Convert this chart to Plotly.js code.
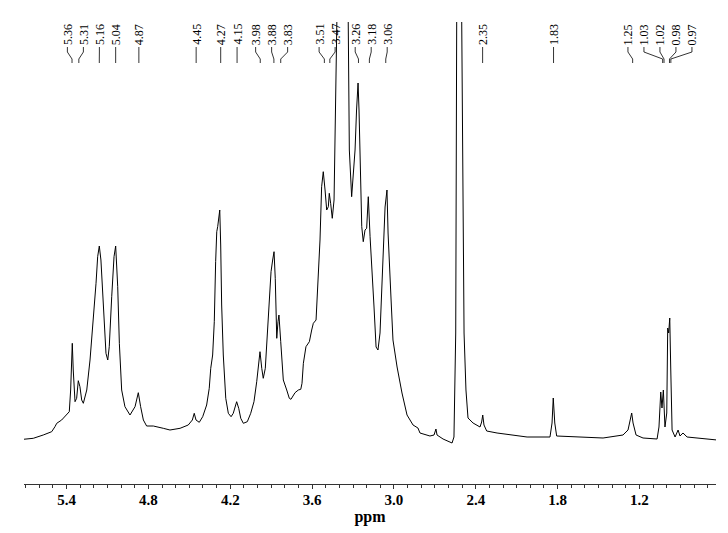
<!DOCTYPE html>
<html>
<head>
<meta charset="utf-8">
<script src="https://cdn.plot.ly/plotly-3.0.1.min.js"></script>
<style>html,body{margin:0;padding:0;background:#fff;}#chart{width:728px;height:533px;}</style>
</head>
<body>
<div id="chart"></div>
<script>
// Chemical shift (ppm) of traced spectrum points
const ppm = [5.717,5.644,5.571,5.509,5.485,5.472,5.436,5.399,5.380,5.370,5.358,5.351,5.338,5.326,5.314,5.302,5.289,5.277,5.252,5.228,5.204,5.184,5.172,5.160,5.148,5.131,5.111,5.098,5.087,5.069,5.052,5.040,5.025,5.013,4.996,4.972,4.935,4.898,4.874,4.857,4.837,4.813,4.764,4.691,4.642,4.568,4.508,4.478,4.464,4.451,4.427,4.402,4.373,4.354,4.343,4.329,4.317,4.307,4.299,4.292,4.285,4.277,4.270,4.263,4.251,4.233,4.214,4.194,4.178,4.163,4.153,4.138,4.123,4.104,4.075,4.050,4.026,4.006,3.991,3.982,3.969,3.958,3.943,3.928,3.914,3.901,3.889,3.879,3.870,3.859,3.850,3.843,3.830,3.811,3.786,3.767,3.755,3.742,3.725,3.701,3.683,3.674,3.664,3.645,3.635,3.620,3.603,3.591,3.571,3.566,3.554,3.542,3.530,3.518,3.505,3.493,3.481,3.474,3.464,3.452,3.439,3.432,3.425,3.417,3.410,3.377,3.344,3.333,3.327,3.310,3.298,3.285,3.274,3.263,3.256,3.249,3.236,3.225,3.212,3.200,3.188,3.175,3.161,3.146,3.131,3.117,3.102,3.080,3.065,3.051,3.043,3.021,3.007,2.977,2.941,2.904,2.860,2.824,2.809,2.736,2.706,2.692,2.684,2.640,2.574,2.560,2.547,2.540,2.534,2.521,2.508,2.503,2.496,2.486,2.472,2.457,2.420,2.369,2.357,2.349,2.340,2.320,2.244,2.149,2.024,1.856,1.841,1.832,1.821,1.807,1.658,1.467,1.321,1.284,1.257,1.247,1.225,1.174,1.071,1.057,1.044,1.035,1.025,1.013,1.000,0.993,0.986,0.978,0.971,0.961,0.939,0.917,0.903,0.881,0.851,0.683,0.631];

// Intensity (arbitrary units) at each ppm point
const intensity = [0.7,1.7,5,8.3,13.3,16.7,20,25,28.3,50,96.7,70,38.3,41.7,59.3,53.3,40,36.7,50,80,120,156.7,183.3,194,180,133.3,86.7,80,93.3,143.3,183.3,194,153.3,96.7,50,33.3,25,33.3,47.3,33.3,20,14,14,11.7,10,11.7,15,20,26.7,20,17.7,23.3,35,51.7,71.7,85,118.3,178.3,208.3,213.3,221.7,230,195,135,85,41.7,26.7,23.3,26.7,33.3,38.3,31.7,21.7,16.7,18.3,26.7,38.3,58.3,81.7,88.3,71.7,61.7,71.7,105,145,168.3,180,188.3,161.7,101.7,118.3,125,98.3,60,50,41.7,40.7,44,47.3,50,50.7,56.7,76.7,93.3,95,98.3,110,116.7,120,133.3,163.3,200,253.3,268.3,250,230,233.3,246.7,236.7,221.7,240,290,330,420,560,780,560,420,290,243.3,263.3,290,330,357,330,285,213.3,198.3,210,211.7,243.3,203.3,173,133,93,90,107,173,233,250,207,140,100,73,47,25,15,12,7,4,5,11,5,1,-3,3,107,418,800,1400,800,418,240,107,50,22,17,13,18,25,15,9,7,5,3,3,17,42,17,4,3,2,5,10,27,17,5,2,1,13,48,32,50,13,27,112,107,122,73,10,3,10,4,7,3,1,0];

// Peak picking labels (ppm)
const peakLabels = [5.36,5.31,5.16,5.04,4.87,4.45,4.27,4.15,3.98,3.88,3.83,3.51,3.47,3.26,3.18,3.06,2.35,1.83,1.25,1.03,1.02,0.98,0.97];

// Axis tick values
const tickVals = [5.4,4.8,4.2,3.6,3.0,2.4,1.8,1.2];

// ---- layout geometry ----
const W = 728, H = 533;
const M = {l: 24, r: 12, t: 22, b: 49};
const xRange = [5.712, 0.639];
const yRange = [-44, 418];
const plotW = W - M.l - M.r, plotH = H - M.t - M.b;
const ppmToPx = p => M.l + (p - xRange[0]) / (xRange[1] - xRange[0]) * plotW;
const pxToPpm = x => xRange[0] + (x - M.l) / plotW * (xRange[1] - xRange[0]);
const pyToPaper = y => (H - M.b - y) / plotH;

// spread labels horizontally so they don't overlap
function spread(px, d) {
  let clusters = px.map((p, i) => ({idx: [i], mean: p}));
  let changed = true;
  while (changed) {
    changed = false;
    for (let k = 0; k < clusters.length - 1; k++) {
      const a = clusters[k], b = clusters[k + 1];
      const aEnd = a.mean + (a.idx.length - 1) / 2 * d;
      const bStart = b.mean - (b.idx.length - 1) / 2 * d;
      if (bStart - aEnd < d) {
        const idx = a.idx.concat(b.idx);
        const mean = idx.reduce((s, i) => s + px[i], 0) / idx.length;
        clusters.splice(k, 2, {idx, mean});
        changed = true;
        break;
      }
    }
  }
  const out = new Array(px.length);
  clusters.forEach(c => c.idx.forEach((i, j) => {
    out[i] = c.mean + (j - (c.idx.length - 1) / 2) * d;
  }));
  return out;
}

const peakPx = peakLabels.map(ppmToPx);
const labelPx = spread(peakPx, 16);

const yTextBottom = 47, yKnee1 = 52, yKnee2 = 59, yEnd = 63;
const serif = 'Liberation Serif, Times New Roman, serif';
const annotations = peakLabels.map((p, i) => ({
  x: pxToPpm(labelPx[i]), y: pyToPaper(yTextBottom - 1), xref: 'x', yref: 'paper',
  text: p.toFixed(2), textangle: -90, showarrow: false,
  xanchor: 'center', yanchor: 'bottom', borderpad: 0,
  font: {family: serif, size: 12, color: '#000'}
}));
const shapes = peakLabels.map((p, i) => {
  const lx = pxToPpm(labelPx[i]);
  return {
    type: 'path', xref: 'x', yref: 'paper',
    path: `M${lx},${pyToPaper(yTextBottom)} L${lx},${pyToPaper(yKnee1)} L${p},${pyToPaper(yKnee2)} L${p},${pyToPaper(yEnd)}`,
    line: {color: '#000', width: 0.8}
  };
});

const trace = {
  x: ppm, y: intensity, type: 'scatter', mode: 'lines',
  line: {color: '#000', width: 1}, hoverinfo: 'skip'
};

const layout = {
  width: W, height: H,
  margin: M,
  paper_bgcolor: '#fff', plot_bgcolor: '#fff',
  showlegend: false,
  xaxis: {
    range: xRange, autorange: false,
    showline: true, linecolor: '#333', linewidth: 1,
    showgrid: false, zeroline: false,
    tickmode: 'array', tickvals: tickVals, ticktext: tickVals.map(v => v.toFixed(1)),
    ticks: 'outside', ticklen: 4, tickcolor: '#333', tickwidth: 1,
    ticklabelstandoff: -2,
    minor: {dtick: 0.1, tick0: 0, ticks: 'outside', ticklen: 3, tickcolor: '#333', showgrid: false},
    tickfont: {family: serif, size: 15, color: '#000', weight: 'bold'},
    title: {text: 'ppm', font: {family: serif, size: 16, color: '#000', weight: 'bold'}, standoff: 3}
  },
  yaxis: {
    range: yRange, autorange: false, visible: false
  },
  annotations, shapes
};

Plotly.newPlot('chart', [trace], layout, {staticPlot: true, displayModeBar: false});
</script>
</body>
</html>
